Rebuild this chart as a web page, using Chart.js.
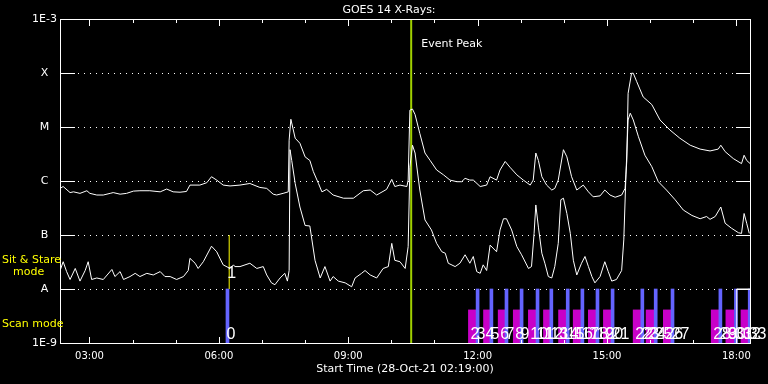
<!DOCTYPE html>
<html>
<head>
<meta charset="utf-8">
<title>GOES 14 X-Rays</title>
<script src="https://cdn.jsdelivr.net/npm/chart.js@4.4.1/dist/chart.umd.min.js"></script>
<style>
    html, body { margin: 0; padding: 0; background: #000; }
    canvas { display: block; }
</style>
</head>
<body>
<canvas id="goesChart" width="768" height="384"></canvas>
<script>
// Time axis: hours of day, plot starts 28-Oct-21 02:19
const startHour = 2 + 19 / 60;
const endHour = startHour + 16;

// Long channel (1-8 A), flux in W/m^2
const longTime = [
    2.32, 2.39, 2.55, 2.63, 2.78, 2.94, 3.01, 3.17, 3.32, 3.48,
    3.55, 3.71, 3.86, 4.02, 4.17, 4.40, 4.64, 4.79, 4.94, 5.10,
    5.25, 5.33, 5.56, 5.72, 5.83, 5.95, 6.10, 6.26, 6.49, 6.72,
    6.95, 7.11, 7.26, 7.34, 7.49, 7.61, 7.63, 7.67, 7.77, 7.88,
    8.00, 8.11, 8.19, 8.31, 8.39, 8.50, 8.65, 8.89, 9.12, 9.35,
    9.51, 9.66, 9.89, 10.01, 10.08, 10.20, 10.36, 10.39, 10.43, 10.49,
    10.55, 10.66, 10.78, 10.90, 11.05, 11.21, 11.36, 11.52, 11.63, 11.71,
    11.82, 11.90, 12.06, 12.21, 12.29, 12.44, 12.52, 12.64, 12.75, 12.91,
    13.06, 13.22, 13.29, 13.35, 13.41, 13.49, 13.60, 13.72, 13.79, 13.87,
    13.99, 14.07, 14.18, 14.30, 14.45, 14.57, 14.68, 14.84, 14.95, 15.07,
    15.19, 15.34, 15.42, 15.46, 15.49, 15.57, 15.61, 15.69, 15.84, 16.04,
    16.23, 16.46, 16.69, 16.93, 17.16, 17.39, 17.58, 17.64, 17.74, 17.93,
    18.12, 18.18, 18.24, 18.32
];
const longFlux = [
    7.3e-7, 7.9e-7, 6.1e-7, 6.3e-7, 5.9e-7, 6.6e-7, 5.9e-7, 5.5e-7, 5.5e-7, 5.9e-7,
    6.1e-7, 5.7e-7, 5.9e-7, 6.5e-7, 6.6e-7, 6.6e-7, 6.3e-7, 7.1e-7, 6.3e-7, 6.2e-7,
    6.4e-7, 8.4e-7, 8.4e-7, 9.3e-7, 1.2e-6, 1.04e-6, 8.4e-7, 8.1e-7, 8.4e-7, 9.0e-7,
    7.6e-7, 7.3e-7, 5.7e-7, 5.5e-7, 5.9e-7, 6.3e-7, 5.7e-6, 1.39e-5, 6.2e-6, 5.0e-6,
    2.8e-6, 2.4e-6, 1.5e-6, 9.0e-7, 6.3e-7, 7.0e-7, 5.5e-7, 4.8e-7, 4.8e-7, 6.6e-7,
    6.8e-7, 5.5e-7, 7.0e-7, 1.07e-6, 7.9e-7, 8.4e-7, 7.9e-7, 1.04e-6, 2.05e-5, 2.15e-5,
    1.7e-5, 7.6e-6, 3.3e-6, 2.4e-6, 1.6e-6, 1.3e-6, 1.04e-6, 9.7e-7, 9.7e-7, 1.12e-6,
    1.04e-6, 1.04e-6, 7.9e-7, 8.4e-7, 1.2e-6, 1.04e-6, 1.6e-6, 2.3e-6, 1.8e-6, 1.3e-6,
    1.04e-6, 8.4e-7, 1.04e-6, 3.3e-6, 2.4e-6, 1.2e-6, 8.4e-7, 6.8e-7, 7.3e-7, 1.04e-6,
    3.8e-6, 2.8e-6, 1.2e-6, 6.8e-7, 8.4e-7, 6.3e-7, 5.1e-7, 5.3e-7, 6.8e-7, 5.5e-7,
    5.0e-7, 5.5e-7, 7.3e-7, 2.4e-6, 4.2e-5, 9.9e-5, 9.9e-5, 6.9e-5, 3.6e-5, 2.6e-5,
    1.35e-5, 8.8e-6, 6.2e-6, 4.6e-6, 3.9e-6, 3.6e-6, 3.9e-6, 4.6e-6, 3.5e-6, 2.6e-6,
    2.1e-6, 3.0e-6, 2.4e-6, 2.1e-6
];

// Short channel (0.5-4 A), flux in W/m^2
const shortTime = [
    2.32, 2.39, 2.47, 2.55, 2.67, 2.78, 2.90, 2.97, 3.05, 3.17,
    3.32, 3.52, 3.59, 3.71, 3.79, 3.94, 4.06, 4.17, 4.33, 4.48,
    4.64, 4.75, 4.87, 5.02, 5.18, 5.29, 5.33, 5.45, 5.52, 5.64,
    5.83, 5.95, 6.10, 6.26, 6.34, 6.37, 6.49, 6.72, 6.88,
    7.03, 7.11, 7.22, 7.30, 7.42, 7.53, 7.59, 7.63, 7.65, 7.69,
    7.77, 7.88, 8.00, 8.11, 8.23, 8.35, 8.46, 8.58, 8.65, 8.77,
    8.93, 9.08, 9.16, 9.31, 9.39, 9.51, 9.66, 9.81, 9.93, 10.01,
    10.08, 10.20, 10.32, 10.39, 10.43, 10.49, 10.55, 10.66, 10.78, 10.93,
    11.05, 11.17, 11.25, 11.32, 11.48, 11.59, 11.71, 11.82, 11.90, 11.98,
    12.06, 12.13, 12.21, 12.29, 12.44, 12.52, 12.60, 12.67, 12.79, 12.91,
    13.02, 13.18, 13.25, 13.31, 13.35, 13.41, 13.49, 13.56, 13.64, 13.72,
    13.79, 13.87, 13.93, 13.99, 14.07, 14.15, 14.22, 14.30, 14.41, 14.49,
    14.57, 14.65, 14.72, 14.84, 14.95, 15.03, 15.11, 15.22, 15.34, 15.39,
    15.44, 15.49, 15.54, 15.61, 15.73, 15.88, 16.04, 16.19, 16.38, 16.58,
    16.77, 16.97, 17.16, 17.31, 17.39, 17.51, 17.64, 17.74, 17.89, 18.05,
    18.12, 18.18, 18.24, 18.30
];
const shortFlux = [
    2.2e-8, 3.2e-8, 2.1e-8, 1.5e-8, 2.4e-8, 1.4e-8, 2.2e-8, 3.2e-8, 1.5e-8, 1.6e-8,
    1.5e-8, 2.3e-8, 1.7e-8, 2.1e-8, 1.5e-8, 1.7e-8, 1.95e-8, 1.7e-8, 1.95e-8, 1.82e-8,
    2.1e-8, 1.7e-8, 1.7e-8, 1.5e-8, 1.7e-8, 2.2e-8, 3.7e-8, 3.0e-8, 2.4e-8, 3.2e-8,
    6.2e-8, 4.9e-8, 2.8e-8, 2.4e-8, 2.8e-8, 2.6e-8, 2.6e-8, 3.0e-8, 2.4e-8,
    2.6e-8, 1.82e-8, 1.3e-8, 1.2e-8, 1.6e-8, 1.95e-8, 1.4e-8, 2.2e-8, 3.8e-6, 2.4e-6,
    9.0e-7, 3.3e-7, 1.5e-7, 1.47e-7, 3.4e-8, 1.6e-8, 2.6e-8, 1.4e-8, 1.7e-8, 1.4e-8,
    1.3e-8, 1.1e-8, 1.6e-8, 1.95e-8, 2.2e-8, 1.82e-8, 1.6e-8, 2.4e-8, 2.6e-8, 7.0e-8,
    3.4e-8, 3.2e-8, 2.4e-8, 6.1e-8, 1.8e-6, 4.6e-6, 3.3e-6, 6.8e-7, 1.9e-7, 1.24e-7,
    7.0e-8, 4.9e-8, 4.6e-8, 3.0e-8, 2.6e-8, 3.0e-8, 4.3e-8, 3.0e-8, 4.0e-8, 2.1e-8,
    1.95e-8, 2.8e-8, 2.2e-8, 6.5e-8, 4.9e-8, 1.24e-7, 2.0e-7, 2.0e-7, 1.24e-7, 6.1e-8,
    4.3e-8, 2.4e-8, 2.6e-8, 1.07e-7, 3.6e-7, 1.4e-7, 4.6e-8, 3.0e-8, 1.7e-8, 1.6e-8,
    2.6e-8, 7.0e-8, 4.5e-7, 4.8e-7, 2.5e-7, 1.07e-7, 3.4e-8, 1.82e-8, 3.0e-8, 4.0e-8,
    2.6e-8, 1.7e-8, 1.3e-8, 1.7e-8, 3.2e-8, 2.1e-8, 1.4e-8, 1.5e-8, 2.2e-8, 8.1e-8,
    1.3e-6, 1.35e-5, 1.8e-5, 1.35e-5, 6.6e-6, 3.0e-6, 1.84e-6, 9.7e-7, 6.8e-7, 4.5e-7,
    2.9e-7, 2.3e-7, 2.0e-7, 2.2e-7, 1.95e-7, 2.2e-7, 3.3e-7, 1.65e-7, 1.33e-7, 1.1e-7,
    1.07e-7, 2.5e-7, 1.65e-7, 1.07e-7
];

// Observations (hours of day)
const scanTimes = [11.88, 12.23, 12.57, 12.92, 13.27, 13.62, 13.97, 14.31, 14.66, 15.01,
                   15.70, 16.00, 16.40, 17.51, 17.85, 18.20];
const scanLabels = ['2', '4', '6', '8', '10', '12', '14', '16', '18', '20',
                    '22', '24', '26', '28', '30', '32'];
const markTimes = [6.20, 12.00, 12.32, 12.67, 13.02, 13.39, 13.71, 14.09, 14.43, 14.78,
                   15.13, 15.82, 16.13, 16.52, 17.63, 17.99, 18.31];
const markLabels = ['0', '3', '5', '7', '9', '11', '13', '15', '17', '19',
                    '21', '23', '25', '27', '29', '31', '33'];
const stareTime = 6.24;
const stareLabel = '1';
const eventTime = 10.46;
const boxTimes = [18.01, endHour];

// Axis labels
const yTickValues = [1e-9, 1e-8, 1e-7, 1e-6, 1e-5, 1e-4, 1e-3];
const yTickLabels = ['1E-9', 'A', 'B', 'C', 'M', 'X', '1E-3'];
const gridLevels = [1e-8, 1e-7, 1e-6, 1e-5, 1e-4];
const xTickHours = [3, 6, 9, 12, 15, 18];
const xMinorHours = [3, 4, 5, 6, 7, 8, 9, 10, 11, 12, 13, 14, 15, 16, 17, 18];

const font = "'DejaVu Sans', sans-serif";

// Build datasets
function toPoints(times, values) {
    return times.map((t, i) => ({ x: t, y: values[i] }));
}

const datasets = [
    {
        type: 'line', data: toPoints(longTime, longFlux),
        borderColor: '#ffffff', borderWidth: 1, pointRadius: 0, tension: 0, order: 0
    },
    {
        type: 'line', data: toPoints(shortTime, shortFlux),
        borderColor: '#ffffff', borderWidth: 1, pointRadius: 0, tension: 0, order: 0
    },
    {
        type: 'line', data: [{ x: eventTime, y: 1e-9 }, { x: eventTime, y: 1e-3 }],
        borderColor: '#a0d000', borderWidth: 2, pointRadius: 0, order: 1
    },
    {
        type: 'line', data: [{ x: stareTime, y: 1e-8 }, { x: stareTime, y: 1e-7 }],
        borderColor: '#ffff00', borderWidth: 1, pointRadius: 0, order: 1
    },
    {
        type: 'line',
        data: [{ x: boxTimes[0], y: 1e-9 }, { x: boxTimes[0], y: 1e-8 }, { x: boxTimes[1], y: 1e-8 }],
        borderColor: '#ffffff', borderWidth: 1, pointRadius: 0, order: 1
    },
    {
        type: 'bar', data: markTimes.map(t => ({ x: t, y: [1e-9, 1e-8] })),
        backgroundColor: '#6464ff', barThickness: 3, grouped: false, order: 2
    },
    {
        type: 'bar', data: scanTimes.map(t => ({ x: t, y: [1e-9, 4.1e-9] })),
        backgroundColor: '#c800c8', barThickness: 8, grouped: false, order: 3
    }
];

// Dotted grid, frame and inward ticks
const framePlugin = {
    id: 'frame',
    beforeDatasetsDraw(chart) {
        const { ctx, chartArea: a, scales: { y } } = chart;
        ctx.save();
        ctx.strokeStyle = '#ffffff';
        ctx.lineWidth = 1;
        ctx.setLineDash([1, 5]);
        gridLevels.forEach(v => {
            const py = Math.round(y.getPixelForValue(v)) + 0.5;
            ctx.beginPath();
            ctx.moveTo(a.left, py);
            ctx.lineTo(a.right, py);
            ctx.stroke();
        });
        ctx.restore();
    },
    afterDatasetsDraw(chart) {
        const { ctx, chartArea: a, scales: { x, y } } = chart;
        ctx.save();
        ctx.strokeStyle = '#ffffff';
        ctx.lineWidth = 1;
        ctx.strokeRect(a.left + 0.5, a.top + 0.5, a.right - a.left, a.bottom - a.top);
        ctx.beginPath();
        yTickValues.forEach(v => {
            const py = Math.round(y.getPixelForValue(v)) + 0.5;
            ctx.moveTo(a.left, py); ctx.lineTo(a.left + 15, py);
            ctx.moveTo(a.right - 14, py); ctx.lineTo(a.right + 1, py);
        });
        xMinorHours.forEach(h => {
            const px = Math.round(x.getPixelForValue(h)) + 0.5;
            const len = h % 3 === 0 ? 6 : 3;
            ctx.moveTo(px, a.top); ctx.lineTo(px, a.top + len + 1);
            ctx.moveTo(px, a.bottom + 1); ctx.lineTo(px, a.bottom - len);
        });
        ctx.stroke();
        ctx.restore();
    }
};

// Titles and annotations
const textPlugin = {
    id: 'texts',
    afterDraw(chart) {
        const { ctx, chartArea: a, scales: { x } } = chart;
        const mid = (a.left + a.right) / 2;
        ctx.save();
        ctx.fillStyle = '#ffffff';
        ctx.font = '11px ' + font;
        ctx.textAlign = 'center';
        ctx.textBaseline = 'alphabetic';
        ctx.fillText('GOES 14 X-Rays:', 389, 13);
        ctx.fillText('Start Time (28-Oct-21 02:19:00)', mid, 372);

        ctx.textAlign = 'left';
        ctx.fillText('Event Peak', x.getPixelForValue(eventTime) + 10, 47);

        ctx.fillStyle = '#ffff00';
        ctx.fillText('Sit & Stare', 2, 263);
        ctx.fillText('mode', 13, 275);
        ctx.fillText('Scan mode', 2, 327);

        // observation numbers
        ctx.fillStyle = '#ffffff';
        ctx.font = "16px 'Liberation Sans', sans-serif";
        const base = 339;
        scanTimes.forEach((t, i) => {
            ctx.fillText(scanLabels[i], x.getPixelForValue(t) - 2, base);
        });
        markTimes.forEach((t, i) => {
            ctx.fillText(markLabels[i], x.getPixelForValue(t) - 1, base);
        });
        ctx.fillText(stareLabel, x.getPixelForValue(stareTime) - 2, 278);
        ctx.restore();
    }
};

new Chart(document.getElementById('goesChart'), {
    type: 'line',
    data: { datasets: datasets },
    options: {
        responsive: false,
        animation: false,
        events: [],
        layout: { padding: { left: 0, right: 18, top: 19, bottom: 0 } },
        plugins: {
            legend: { display: false },
            tooltip: { enabled: false },
            title: { display: false }
        },
        scales: {
            x: {
                type: 'linear',
                min: startHour,
                max: endHour,
                offset: false,
                grid: { display: false, drawTicks: false },
                border: { display: false },
                afterBuildTicks: s => { s.ticks = xTickHours.map(v => ({ value: v })); },
                afterFit: s => { s.height = 41; },
                ticks: {
                    color: '#ffffff',
                    font: { family: font, size: 10 },
                    padding: 7,
                    maxRotation: 0,
                    autoSkip: false,
                    callback: v => String(v).padStart(2, '0') + ':00'
                }
            },
            y: {
                type: 'logarithmic',
                min: 1e-9,
                max: 1e-3,
                grid: { display: false, drawTicks: false },
                border: { display: false },
                afterBuildTicks: s => { s.ticks = yTickValues.map(v => ({ value: v })); },
                afterFit: s => { s.width = 60; },
                ticks: {
                    color: '#ffffff',
                    font: { family: font, size: 11 },
                    padding: 3,
                    crossAlign: 'center',
                    autoSkip: false,
                    callback: (v, i) => yTickLabels[i]
                }
            }
        }
    },
    plugins: [framePlugin, textPlugin]
});
</script>
</body>
</html>
